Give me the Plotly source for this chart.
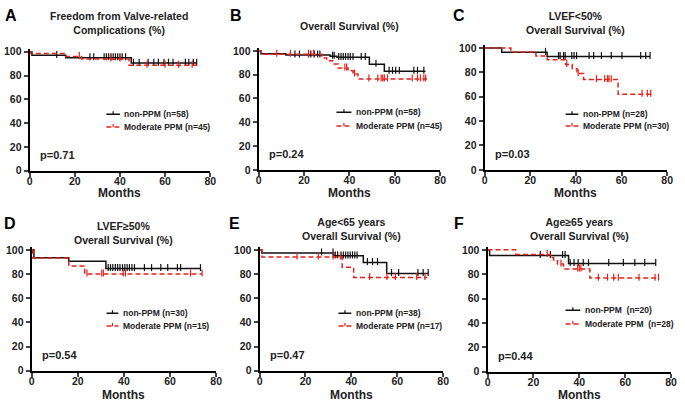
import plotly.graph_objects as go

# ---------------- DATA ----------------
months_ticks = [0, 20, 40, 60, 80]
pct_ticks = [0, 20, 40, 60, 80, 100]

panel_letters = ["A", "B", "C", "D", "E", "F"]
panel_titles = [
    "Freedom from Valve-related<br>Complications (%)",
    "Overall Survival (%)",
    "LVEF<50%<br>Overall Survival (%)",
    "LVEF≥50%<br>Overall Survival (%)",
    "Age<65 years<br>Overall Survival (%)",
    "Age≥65 years<br>Overall Survival (%)",
]
p_values = ["p=0.71", "p=0.24", "p=0.03", "p=0.54", "p=0.47", "p=0.44"]
np_labels = ["non-PPM (n=58)", "non-PPM (n=58)", "non-PPM (n=28)",
             "non-PPM (n=30)", "non-PPM (n=38)", "non-PPM  (n=20)"]
mp_labels = ["Moderate PPM (n=45)", "Moderate PPM (n=45)", "Moderate PPM (n=30)",
             "Moderate PPM (n=15)", "Moderate PPM (n=17)", "Moderate PPM  (n=28)"]

# Panel A
A_np_t = [1, 16, 45];            A_np_s = [97, 95, 90.5];        A_np_end = 74
A_np_c = [12, 26.7, 28.4, 33, 34, 35, 36, 37, 38, 39, 40, 41, 42.5, 46, 48.5, 52.5, 55, 57, 59.5, 61.5, 63.5, 69, 70.5, 72.5, 74]
A_mp_t = [0.5, 16, 23, 44];      A_mp_s = [98.5, 96, 94, 88.7]; A_mp_end = 74
A_mp_c = [22, 36, 40, 52, 60, 66, 72]

# Panel B
B_np_t = [1, 12, 31.5, 34.5, 48.8, 55.4]; B_np_s = [97.5, 96.5, 95.5, 94.5, 88.7, 82.8]; B_np_end = 73.5
B_np_c = [16, 18, 22, 23, 24.5, 26, 27, 32.6, 33.3, 35.3, 36.3, 37.3, 38.3, 39.4, 40.4, 41.6, 45.2, 47, 51.7, 57.5, 59, 60.4, 62, 68.4, 70, 72.8]
B_mp_t = [1, 27.8, 30, 32.6, 35, 39.4, 41.6, 43.8]; B_mp_s = [97.2, 94, 91.7, 89, 85.6, 83.3, 80.5, 76.4]; B_mp_end = 74.2
B_mp_c = [8, 14, 22, 24.2, 38, 38.8, 42.3, 48.6, 52.5, 54, 54.7, 55.4, 56.8, 67.7, 70, 71.3, 72.8, 73.6]

# Panel C
C_np_t = [7.5, 27.4];            C_np_s = [96.4, 92.9];          C_np_end = 72.5
C_np_c = [26.7, 32.4, 33.1, 34.6, 35.3, 38.2, 39.2, 40.3, 45.8, 47.8, 51.2, 55.5, 60.2, 68.4, 70.6, 72.5]
C_mp_t = [11.5, 22.5, 27.5, 35.5, 38.4, 40.5, 43.4, 58.5]
C_mp_s = [96.7, 93.4, 90.2, 86.4, 82.8, 79, 74, 62]; C_mp_end = 73
C_mp_c = [36, 41, 49, 52.6, 53.9, 54.5, 55.5, 69, 71.3, 72.8]

# Panel D
D_np_t = [1, 16.1, 32.2];        D_np_s = [93.5, 90.5, 84.5];    D_np_end = 73.2
D_np_c = [33.2, 34.2, 35.2, 36.3, 37.3, 38.3, 39.4, 40.4, 41.4, 42.4, 43.5, 44.6, 48.9, 52, 56, 59, 63.2, 64.6, 73.2]
D_mp_t = [0.5, 16.1, 23];        D_mp_s = [93.3, 86.7, 80];      D_mp_end = 73.9
D_mp_c = [24, 30.4, 31.1, 39.7, 40.7, 68.9, 73.9]

# Panel E
E_np_t = [1, 32.3, 45.2, 55.4];  E_np_s = [97.4, 95, 89.5, 80.5]; E_np_end = 73.5
E_np_c = [27, 32, 33, 34, 35.5, 36.5, 37.5, 38.5, 39.5, 40.5, 41.5, 42.5, 47, 49.2, 51.4, 57.5, 60.6, 69, 71.3, 73.5]
E_mp_t = [1, 36, 41];            E_mp_s = [94.1, 85.5, 77.2];    E_mp_end = 73
E_mp_c = [16.3, 25.6, 32, 35.2, 48, 55.5, 59.2, 68.5, 72.1]

# Panel F
F_np_t = [0.9, 35.3];            F_np_s = [95.3, 88.7];          F_np_end = 73.3
F_np_c = [23, 27.4, 32.7, 33.8, 36, 37.7, 39.5, 41.7, 44, 52.8, 59.2, 64.2, 68.5, 73.3]
F_mp_t = [12.3, 27.4, 28.8, 30.5, 33.1, 44.6]
F_mp_s = [96.2, 93.6, 91, 88.3, 84.3, 76.8]; F_mp_end = 74.5
F_mp_c = [26, 32, 39.3, 40, 40.7, 48.3, 52.3, 55, 57, 66, 73, 74.5]

np_series = [(A_np_t, A_np_s, A_np_end, A_np_c), (B_np_t, B_np_s, B_np_end, B_np_c),
             (C_np_t, C_np_s, C_np_end, C_np_c), (D_np_t, D_np_s, D_np_end, D_np_c),
             (E_np_t, E_np_s, E_np_end, E_np_c), (F_np_t, F_np_s, F_np_end, F_np_c)]
mp_series = [(A_mp_t, A_mp_s, A_mp_end, A_mp_c), (B_mp_t, B_mp_s, B_mp_end, B_mp_c),
             (C_mp_t, C_mp_s, C_mp_end, C_mp_c), (D_mp_t, D_mp_s, D_mp_end, D_mp_c),
             (E_mp_t, E_mp_s, E_mp_end, E_mp_c), (F_mp_t, F_mp_s, F_mp_end, F_mp_c)]

# ---------------- LAYOUT ----------------
W, H = 685, 408
# plot boxes in pixels: (x0, x80, y0_pixel, y100_pixel)
boxes = [(27, 210, 171, 49), (259, 443, 170, 48), (488, 673, 170, 45),
         (29, 216, 376, 252), (260, 446, 376, 252), (491, 677, 377, 252)]
YMAX = 102
letter_pos = [(8, 12), (236, 12), (462, 12), (7, 225), (235, 225), (462, 225)]
title_pos = [(118, 19), (351, 23), (580, 19), (122, 235), (353, 231), (584, 231)]
months_y = [194, 194, 194, 401, 401, 401]
legend_pos = [(34.0, 40.0, 47.5, 36.9), (34.3, 40.9, 48.4, 36.9), (35.5, 41.1, 45.6, 36.0),
              (32.5, 37.6, 47.6, 37.1), (34.4, 40.0, 47.6, 37.1), (34.0, 40.4, 50.4, 39.2)]

FONT = "Liberation Sans, Arial, sans-serif"
BLACK = "#111111"
RED = "#e8201c"
RED_DASH = "5px,3px"


def step_at(t_list, s_list, x):
    val = 100.0
    for t, s in zip(t_list, s_list):
        if x >= t:
            val = s
    return val


fig = go.Figure()
annotations = []
shapes = []

for i in range(6):
    ax = "" if i == 0 else str(i + 1)
    xa, ya = "x" + ax, "y" + ax
    x0p, x1p, y0p, y100p = boxes[i]
    ppu = (y0p - y100p) / 100.0
    ytop = y100p - (YMAX - 100) * ppu
    fig.layout["xaxis" + ax] = dict(
        domain=[x0p / W, x1p / W], range=[0, 80], anchor=ya,
        tickvals=months_ticks, ticks="outside", ticklen=4, tickwidth=1.5,
        showline=True, linewidth=2, linecolor="black", showgrid=False, zeroline=False,
        ticklabelstandoff=-4,
        tickfont=dict(family=FONT, size=10.5, color="#222", weight="bold"),
    )
    fig.layout["yaxis" + ax] = dict(
        domain=[1 - y0p / H, 1 - ytop / H], range=[0, YMAX], anchor=xa,
        tickvals=pct_ticks, ticks="outside", ticklen=4, tickwidth=1.5,
        showline=True, linewidth=2, linecolor="black", showgrid=False, zeroline=False,
        tickfont=dict(family=FONT, size=10.5, color="#222", weight="bold"),
    )

    for (series, color, dash) in ((np_series[i], BLACK, "solid"), (mp_series[i], RED, RED_DASH)):
        t, s, end, c = series
        xs = [0] + list(t) + [end]
        ys = [100] + list(s) + [s[-1]]
        fig.add_trace(go.Scatter(x=xs, y=ys, mode="lines", line=dict(color=color, width=1.5, dash=dash, shape="hv"),
                                 xaxis=xa, yaxis=ya, showlegend=False, hoverinfo="skip"))
        cy = [step_at(t, s, v) + 0.8 for v in c]
        fig.add_trace(go.Scatter(x=c, y=cy, mode="markers",
                                 marker=dict(symbol="line-ns", size=5, line=dict(color=color, width=1.2)),
                                 xaxis=xa, yaxis=ya, showlegend=False, hoverinfo="skip", cliponaxis=False))

    # panel letter
    lx, ly = letter_pos[i]
    annotations.append(dict(text="<b>%s</b>" % panel_letters[i], x=lx / W, y=1 - ly / H, xref="paper", yref="paper",
                            showarrow=False, xanchor="center", yanchor="middle",
                            font=dict(family=FONT, size=16, color="black")))
    # title
    tx, ty = title_pos[i]
    annotations.append(dict(text="<b>%s</b>" % panel_titles[i], x=tx / W, y=1 - ty / H, xref="paper", yref="paper",
                            showarrow=False, xanchor="center", yanchor="middle",
                            font=dict(family=FONT, size=10.5, color="#222")))
    # x-axis title
    annotations.append(dict(text="<b>Months</b>", x=(x0p + x1p) / 2 / W, y=1 - months_y[i] / H,
                            xref="paper", yref="paper", showarrow=False, xanchor="center", yanchor="middle",
                            font=dict(family=FONT, size=12, color="#222")))
    # p-value
    annotations.append(dict(text="<b>%s</b>" % p_values[i], x=3.8, y=13, xref=xa, yref=ya,
                            showarrow=False, xanchor="left", yanchor="middle",
                            font=dict(family=FONT, size=11, color="#222")))
    # legend
    lx0, lx1, ly1, ly2 = legend_pos[i]
    for (yy, color, dash, label) in ((ly1, BLACK, "solid", np_labels[i]), (ly2, RED, RED_DASH, mp_labels[i])):
        shapes.append(dict(type="line", xref=xa, yref=ya, x0=lx0, x1=lx1, y0=yy, y1=yy,
                           line=dict(color=color, width=1.5, dash=dash)))
        mid = (lx0 + lx1) / 2
        shapes.append(dict(type="line", xref=xa, yref=ya, x0=mid, x1=mid, y0=yy, y1=yy + 2.5,
                           line=dict(color=color, width=1.2)))
        annotations.append(dict(text="<b>%s</b>" % label, x=lx1 + 1.0, y=yy, xref=xa, yref=ya,
                                showarrow=False, xanchor="left", yanchor="middle",
                                font=dict(family=FONT, size=8.5, color="#222")))

fig.update_layout(width=W, height=H, margin=dict(l=0, r=0, t=0, b=0),
                  paper_bgcolor="white", plot_bgcolor="white",
                  annotations=annotations, shapes=shapes, showlegend=False)

fig.write_html("out.html", config={"displayModeBar": False},
               post_script="document.body.style.margin='0px';document.body.style.overflow='hidden';")
